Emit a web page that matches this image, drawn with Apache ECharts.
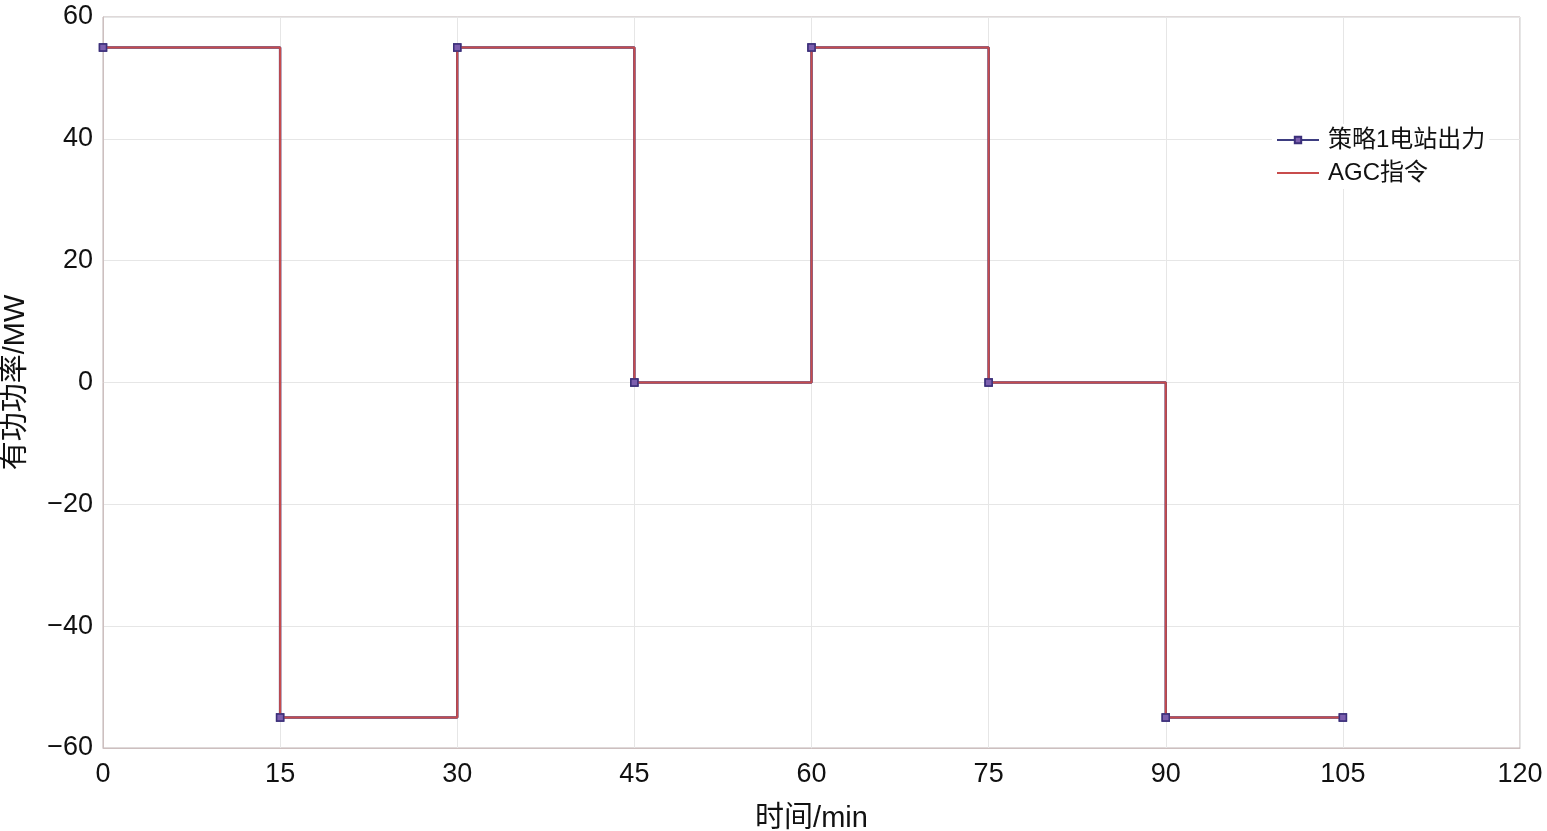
<!DOCTYPE html>
<html><head><meta charset="utf-8">
<script src="https://cdn.jsdelivr.net/npm/echarts@6/dist/echarts.min.js"></script>
<style>html,body{margin:0;padding:0;background:#fff}#c{width:1547px;height:831px}</style>
</head><body><div id="c"></div>
<script>
const times = [0, 15, 30, 45, 60, 75, 90, 105];
const stationOutput = [55, -55, 55, 0, 55, 0, -55, -55];
const agcCommand = [55, -55, 55, 0, 55, 0, -55, -55];
const seriesNames = ['策略1电站出力', 'AGC指令'];
const xName = '时间/min';
const yName = '有功功率/MW';

const chart = echarts.init(document.getElementById('c'));
const font = 'Liberation Sans, Arial, Noto Sans CJK SC, sans-serif';
chart.setOption({
  backgroundColor: '#fff',
  animation: false,
  grid: {left: 103, right: 27, top: 17, bottom: 83, show: true, borderColor: '#bfb3b3', borderWidth: 1,
         containLabel: false, outerBoundsMode: 'none'},
  legend: {
    left: 1272, top: 124, orient: 'vertical', itemGap: 9,
    itemWidth: 42, itemHeight: 8,
    backgroundColor: '#fff', padding: [4, 4, 4, 4],
    textStyle: {fontSize: 24, fontFamily: font, color: '#111', padding: [0, 0, 0, 4]},
    data: [seriesNames[0], {name: seriesNames[1], itemStyle: {opacity: 0}}]
  },
  xAxis: {
    type: 'value', min: 0, max: 120, interval: 15,
    name: xName, nameLocation: 'middle', nameGap: 56,
    nameTextStyle: {fontSize: 29, fontFamily: font, color: '#111'},
    axisLine: {show: true, onZero: false, lineStyle: {color: '#cdbfbf'}},
    axisTick: {show: false},
    axisLabel: {fontSize: 27, fontFamily: font, color: '#111', margin: 13},
    splitLine: {show: true, lineStyle: {color: '#e6e6e6'}}
  },
  yAxis: {
    type: 'value', min: -60, max: 60, interval: 20,
    name: yName, nameLocation: 'middle', nameGap: 72, nameRotate: 90,
    nameTextStyle: {fontSize: 29, fontFamily: font, color: '#111'},
    axisLine: {show: true, onZero: false, lineStyle: {color: '#cdbfbf'}},
    axisTick: {show: false},
    axisLabel: {fontSize: 27, fontFamily: font, color: '#111', margin: 10,
      formatter: v => String(v).replace('-', '\u2212')},
    splitLine: {show: true, lineStyle: {color: '#e6e6e6'}}
  },
  series: [
    {
      name: seriesNames[0], type: 'line', step: 'end',
      data: times.map((t, i) => [t, stationOutput[i]]),
      symbol: 'rect', symbolSize: 7,
      itemStyle: {color: '#7c5fae', borderColor: '#3b2f7a', borderWidth: 1.5},
      lineStyle: {color: '#3d3d80', width: 2.5},
      z: 2
    },
    {
      name: seriesNames[1], type: 'line', step: 'end',
      data: times.map((t, i) => [t, agcCommand[i]]),
      symbol: 'none',
      itemStyle: {color: '#c84c4c'},
      lineStyle: {color: '#c84c4c', width: 2},
      z: 3
    },
    {
      name: 'markers', type: 'line', step: 'end',
      data: times.map((t, i) => [t, stationOutput[i]]),
      symbol: 'rect', symbolSize: 7, showSymbol: true,
      itemStyle: {color: '#7c5fae', borderColor: '#3b2f7a', borderWidth: 1.5},
      lineStyle: {opacity: 0},
      z: 4
    }
  ]
});
</script></body></html>
